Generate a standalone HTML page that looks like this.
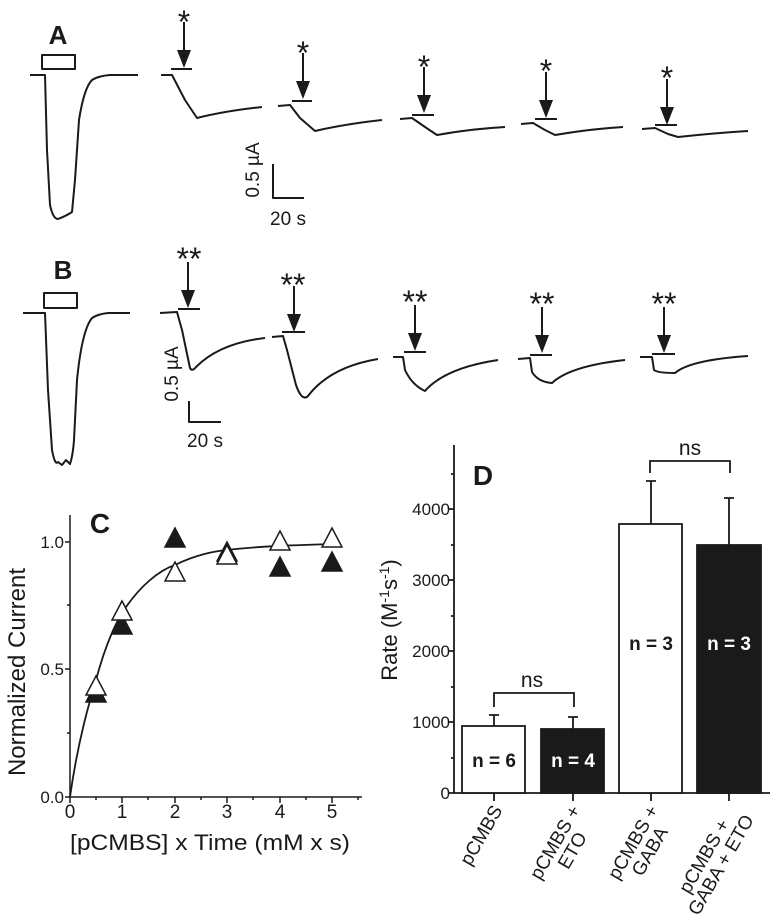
<!DOCTYPE html>
<html><head><meta charset="utf-8"><style>
html,body{margin:0;padding:0;background:#fff}
svg{display:block}
text{font-family:"Liberation Sans",Arial,sans-serif;fill:#1a1a1a}
</style></head><body>
<svg width="775" height="916" viewBox="0 0 775 916" xmlns="http://www.w3.org/2000/svg">
<defs>
<g id="arr"><line x1="0" y1="0" x2="0" y2="32" stroke="#1a1a1a" stroke-width="2"/><polygon points="-7,28 7,28 0,46" fill="#1a1a1a"/></g>
<polygon id="tri" points="-10,9 10,9 0,-10"/>
</defs>
<g fill="none" stroke="#1a1a1a" stroke-width="2" stroke-linejoin="round">
<rect x="42" y="55" width="33" height="14"/>
<path d="M30,75 L45,75 L47,150 L50,205 Q53,219 58,219 Q66,216 72,212 L75,180 L79,120 Q84,88 92,80 Q98,76 110,75 L138,75"/>
<path d="M161,75 L172,75 L185,100 L197,118 Q225,111 262,107"/>
<path d="M278,106 L290,105 L300,118 L315,131 Q345,124 382,120"/>
<path d="M400,119 L412,118 L425,127 L437,135 Q470,129 505,127"/>
<path d="M521,124 L533,123 L545,130 L555,135 Q590,129 623,127"/>
<path d="M642,129 L655,128 L668,134 L678,137 Q715,133 748,131"/>
<path d="M171,69 H192 M292,101 H312 M412,115 H434 M535,119 H557 M655,125 H677"/>
<path d="M273,164 V198 H304"/>
<rect x="44" y="293" width="33" height="15"/>
<path d="M23,313 L45,313 L48,390 L52,450 Q55,466 58,462 L62,465 L66,460 L70,464 Q73,455 74,440 L77,380 Q82,330 92,318 Q98,314 108,313 L130,313"/>
<path d="M160,313 L177,312 L182,330 L190,368 Q192,372 196,367 Q220,343 265,338"/>
<path d="M272,337 L283,336 L287,350 L296,385 Q302,402 308,396 Q330,367 378,359"/>
<path d="M393,357 L403,357 L405,370 Q412,385 425,391 Q445,368 498,360"/>
<path d="M518,359 L530,358 L532,372 Q538,382 552,383 Q570,366 625,360"/>
<path d="M640,357 L652,357 L654,370 Q658,373 675,373 Q690,360 748,356"/>
<path d="M178,309 H200 M282,332 H305 M404,352 H426 M530,355 H552 M652,354 H675"/>
<path d="M189,401 V422 H221"/>
</g>
<use href="#arr" transform="translate(184,22)"/>
<use href="#arr" transform="translate(303,53)"/>
<use href="#arr" transform="translate(424,67)"/>
<use href="#arr" transform="translate(546,72)"/>
<use href="#arr" transform="translate(667,79)"/>
<use href="#arr" transform="translate(188,262)"/>
<use href="#arr" transform="translate(294,286)"/>
<use href="#arr" transform="translate(415,305)"/>
<use href="#arr" transform="translate(542,307)"/>
<use href="#arr" transform="translate(664,307)"/>
<g font-size="32" text-anchor="middle">
<text x="184" y="33">*</text><text x="303" y="64">*</text><text x="424" y="78">*</text><text x="546" y="82">*</text><text x="667" y="89">*</text>
<text x="189" y="270">**</text><text x="293" y="296">**</text><text x="415" y="313">**</text><text x="542" y="315">**</text><text x="664" y="315">**</text>
</g>
<text x="58" y="44" font-size="26" font-weight="bold" text-anchor="middle">A</text>
<text x="63" y="279" font-size="26" font-weight="bold" text-anchor="middle">B</text>
<text font-size="19" text-anchor="middle" transform="translate(259,170) rotate(-90)">0.5 µA</text>
<text x="288" y="225" font-size="19" text-anchor="middle">20 s</text>
<text font-size="19" text-anchor="middle" transform="translate(178,374) rotate(-90)">0.5 µA</text>
<text x="205" y="447" font-size="19" text-anchor="middle">20 s</text>

<!-- Panel C -->
<g stroke="#1a1a1a" stroke-width="1.5" fill="none">
<path d="M70,515 V797 H362"/>
<path d="M70,542 h-5 M70,669 h-5 M70,797 h-5 M70,605 h-3 M70,733 h-3"/>
<path d="M70,797 v6 M122,797 v6 M175,797 v6 M227,797 v6 M280,797 v6 M332,797 v6 M96,797 v3 M148,797 v3 M201,797 v3 M253,797 v3 M306,797 v3 M358,797 v3"/>
<path stroke-width="1.8" d="M70,797 C78,740 90,700 96,680 C104,650 112,630 122,613 C140,585 160,570 175,565 C195,555 215,551 227,550 C260,546 300,545 332,544"/>
</g>
<text x="100" y="533" font-size="28" font-weight="bold" text-anchor="middle">C</text>
<g font-size="17" text-anchor="end"><text x="64" y="548">1.0</text><text x="64" y="675">0.5</text><text x="64" y="803">0.0</text></g>
<g font-size="19" text-anchor="middle"><text x="70" y="818">0</text><text x="122" y="818">1</text><text x="175" y="818">2</text><text x="227" y="818">3</text><text x="280" y="818">4</text><text x="332" y="818">5</text></g>
<text x="210" y="850" font-size="22" text-anchor="middle" textLength="280" lengthAdjust="spacingAndGlyphs">[pCMBS] x Time (mM x s)</text>
<text font-size="24" text-anchor="middle" transform="translate(25,672) rotate(-90)">Normalized Current</text>
<g stroke="#1a1a1a" stroke-width="1.5">
<g fill="#1a1a1a">
<use href="#tri" x="96" y="693"/><use href="#tri" x="122" y="625"/><use href="#tri" x="175" y="538"/>
<use href="#tri" x="227" y="552"/><use href="#tri" x="280" y="567"/><use href="#tri" x="332" y="562"/>
</g>
<g fill="#fff">
<use href="#tri" x="96" y="686"/><use href="#tri" x="122" y="611"/><use href="#tri" x="175" y="572"/>
<use href="#tri" x="227" y="555"/><use href="#tri" x="280" y="541"/><use href="#tri" x="332" y="538"/>
</g>
</g>

<!-- Panel D -->
<g stroke="#1a1a1a" stroke-width="1.8" fill="none">
<path d="M454,445 V793 H770"/>
<path d="M454,793 h-6 M454,722 h-6 M454,651 h-6 M454,580 h-6 M454,509 h-6 M454,758 h-3 M454,687 h-3 M454,616 h-3 M454,545 h-3 M454,474 h-3"/>
<path d="M494,793 v8 M573,793 v8 M651,793 v8 M729,793 v8"/>
<rect x="462" y="726" width="63" height="67" fill="#fff"/>
<rect x="541" y="729" width="63" height="64" fill="#1a1a1a"/>
<rect x="619" y="524" width="63" height="269" fill="#fff"/>
<rect x="697" y="545" width="64" height="248" fill="#1a1a1a"/>
<path d="M494,726 V715 M489,715 h10 M573,729 V717 M568,717 h10 M651,524 V481 M646,481 h10 M729,545 V498 M724,498 h10"/>
<path d="M494,707 V693 H574 V707 M650,473 V461 H730 V473"/>
</g>
<text x="483" y="485" font-size="28" font-weight="bold" text-anchor="middle">D</text>
<g font-size="17" text-anchor="end"><text x="450" y="799">0</text><text x="450" y="728">1000</text><text x="450" y="657">2000</text><text x="450" y="586">3000</text><text x="450" y="515">4000</text></g>
<text x="532" y="687" font-size="21" text-anchor="middle">ns</text>
<text x="690" y="455" font-size="21" text-anchor="middle">ns</text>
<g font-size="19" font-weight="bold" text-anchor="middle">
<text x="494" y="767">n = 6</text><text x="573" y="767" style="fill:#fff">n = 4</text>
<text x="651" y="650">n = 3</text><text x="729" y="650" style="fill:#fff">n = 3</text>
</g>
<text font-size="22" text-anchor="middle" transform="translate(397,620) rotate(-90)">Rate (M<tspan font-size="14" dy="-8">-1</tspan><tspan dy="8">s</tspan><tspan font-size="14" dy="-8">-1</tspan><tspan dy="8">)</tspan></text>
<g font-size="19" text-anchor="end">
<text transform="translate(503,810) rotate(-60)">pCMBS</text>
<g transform="translate(581,810) rotate(-60)"><text x="0" y="0">pCMBS +</text><text x="-20" y="19">ETO</text></g>
<g transform="translate(659,810) rotate(-60)"><text x="0" y="0">pCMBS +</text><text x="-14" y="19">GABA</text></g>
<g transform="translate(738,810) rotate(-60)"><text x="-16" y="0">pCMBS +</text><text x="0" y="19">GABA + ETO</text></g>
</g>
</svg>
</body></html>
